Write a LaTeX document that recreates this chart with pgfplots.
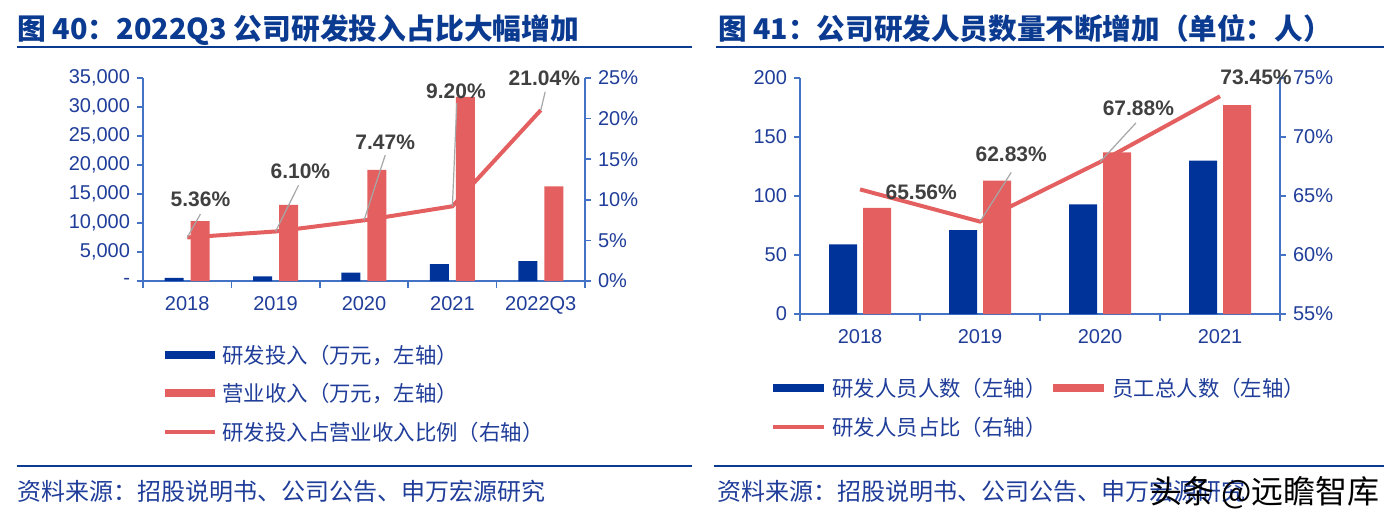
\documentclass[border=0pt]{standalone}
\usepackage{pgfplots}
\pgfplotsset{compat=1.18}
\usepackage{fontspec}
\setmainfont{Liberation Sans}
\newfontfamily\cjk{Noto Sans CJK SC}
\definecolor{barblue}{HTML}{003399}
\definecolor{barred}{HTML}{E45F5F}
\definecolor{axblue}{HTML}{4472C4}
\definecolor{txtblue}{HTML}{1F3D99}
\definecolor{ttlblue}{HTML}{0B3A91}
\definecolor{lblgray}{HTML}{404040}
\definecolor{leadgray}{HTML}{A6A6A6}
\pgfplotsset{
  base/.style={scale only axis, clip=false, anchor=south west,
    axis line style={-, axblue, line width=0.8pt},
    tick style={axblue, line width=0.8pt}, tick align=outside,
    major tick length=3pt, minor tick length=3.5pt,
    scaled y ticks=false,
    ticklabel style={font=\fontsize{10}{12}\selectfont, text=txtblue},
    xticklabel style={yshift=-1pt},
    /pgf/number format/assume math mode=true},
}
\tikzset{
  lbl/.style={font=\bfseries\fontsize{10.5}{12}\selectfont, text=lblgray},
  lead/.style={leadgray, line width=0.6pt},
}
\begin{document}
\begin{tikzpicture}
\useasboundingbox (0,0) rectangle (696pt,-262.5pt);
% ---------- left panel ----------
\begin{axis}[base, at={(71.5pt,-140.5pt)}, width=221pt, height=101.5pt,
  xmin=-0.5, xmax=4.5, ymin=0, ymax=35000,
  axis x line*=bottom, axis y line*=left,
  xtick={0,1,2,3,4}, xticklabels={2018,2019,2020,2021,2022Q3},
  major x tick style={draw=none},
  minor xtick={-0.5,0.5,1.5,2.5,3.5,4.5},
  ytick={0,5000,10000,15000,20000,25000,30000,35000},
  yticklabels={{-},{5,000},{10,000},{15,000},{20,000},{25,000},{30,000},{35,000}},
  ]
\addplot[ybar, bar width=9.5pt, bar shift=-6.5pt, fill=barblue, draw=none]
  coordinates {(0,553) (1,801) (2,1430) (3,2920) (4,3436)};
\addplot[ybar, bar width=9.5pt, bar shift=6.5pt, fill=barred, draw=none]
  coordinates {(0,10320) (1,13130) (2,19140) (3,31740) (4,16330)};
\end{axis}
\begin{axis}[base, at={(71.5pt,-140.5pt)}, width=221pt, height=101.5pt,
  xmin=-0.5, xmax=4.5, ymin=0, ymax=25,
  axis x line=none, axis y line*=right,
  ytick={0,5,10,15,20,25},
  yticklabels={0\%,5\%,10\%,15\%,20\%,25\%},
  ]
\addplot[barred, line width=2pt] coordinates {(0,5.36) (1,6.10) (2,7.47) (3,9.20) (4,21.04)};
\draw[lead] (axis cs:0,5.36) -- (axis cs:0.15,8.25);
\draw[lead] (axis cs:1,6.10) -- (axis cs:1.26,11.8);
\draw[lead] (axis cs:2,7.47) -- (axis cs:2.24,15.5);
\draw[lead] (axis cs:3,9.20) -- (axis cs:3.05,21.9);
\draw[lead] (axis cs:4,21.04) -- (axis cs:4.05,23.3);
\node[lbl] at (axis cs:0.15,10.1) {5.36\%};
\node[lbl] at (axis cs:1.28,13.5) {6.10\%};
\node[lbl] at (axis cs:2.24,17.1) {7.47\%};
\node[lbl] at (axis cs:3.04,23.4) {9.20\%};
\node[lbl] at (axis cs:4.04,25.0) {21.04\%};
\end{axis}
% ---------- right panel ----------
\begin{axis}[base, at={(400pt,-157pt)}, width=240pt, height=118pt,
  xmin=-0.5, xmax=3.5, ymin=0, ymax=200,
  axis x line*=bottom, axis y line*=left,
  xtick={0,1,2,3}, xticklabels={2018,2019,2020,2021},
  major x tick style={draw=none},
  minor xtick={-0.5,0.5,1.5,2.5,3.5},
  ytick={0,50,100,150,200},
  ]
\addplot[ybar, bar width=14pt, bar shift=-8.5pt, fill=barblue, draw=none]
  coordinates {(0,59) (1,71) (2,93) (3,130)};
\addplot[ybar, bar width=14pt, bar shift=8.5pt, fill=barred, draw=none]
  coordinates {(0,90) (1,113) (2,137) (3,177)};
\end{axis}
\begin{axis}[base, at={(400pt,-157pt)}, width=240pt, height=118pt,
  xmin=-0.5, xmax=3.5, ymin=55, ymax=75,
  axis x line=none, axis y line*=right,
  ytick={55,60,65,70,75},
  yticklabels={55\%,60\%,65\%,70\%,75\%},
  ]
\addplot[barred, line width=2pt] coordinates {(0,65.56) (1,62.83) (2,67.88) (3,73.45)};
\draw[lead] (axis cs:1,62.83) -- (axis cs:1.26,67.0);
\draw[lead] (axis cs:2,67.88) -- (axis cs:2.3,71.2);
\node[lbl] at (axis cs:0.51,65.34) {65.56\%};
\node[lbl] at (axis cs:1.26,68.56) {62.83\%};
\node[lbl] at (axis cs:2.32,72.46) {67.88\%};
\node[lbl] at (axis cs:3.30,75.1) {73.45\%};
\end{axis}
% ---------- titles, legends, footers ----------
\begin{scope}[x=0.5pt,y=-0.5pt]
\node[anchor=base west, inner sep=0, font=\cjk\bfseries\fontsize{14.4}{16}\selectfont, text=ttlblue] at (17,39) {图 40：2022Q3 公司研发投入占比大幅增加};
\node[anchor=base west, inner sep=0, font=\cjk\bfseries\fontsize{14.3}{16}\selectfont, text=ttlblue] at (718,39) {图 41：公司研发人员数量不断增加（单位：人）};
\draw[ttlblue, line width=1pt] (17,47) -- (692,47);
\draw[ttlblue, line width=1pt] (716,47) -- (1384,47);
% left legend
\fill[barblue] (165,351) rectangle (215,359);
\node[anchor=west, inner sep=0, font=\cjk\fontsize{10.7}{12}\selectfont, text=txtblue] at (222,355) {研发投入（万元，左轴）};
\fill[barred] (165,389) rectangle (215,397);
\node[anchor=west, inner sep=0, font=\cjk\fontsize{10.7}{12}\selectfont, text=txtblue] at (222,393) {营业收入（万元，左轴）};
\draw[barred, line width=2pt] (165,432) -- (215,432);
\node[anchor=west, inner sep=0, font=\cjk\fontsize{10.7}{12}\selectfont, text=txtblue] at (222,432) {研发投入占营业收入比例（右轴）};
% right legend
\fill[barblue] (773,384) rectangle (824,392);
\node[anchor=west, inner sep=0, font=\cjk\fontsize{10.7}{12}\selectfont, text=txtblue] at (832,388) {研发人员人数（左轴）};
\fill[barred] (1053,384) rectangle (1104,392);
\node[anchor=west, inner sep=0, font=\cjk\fontsize{10.7}{12}\selectfont, text=txtblue] at (1112,388) {员工总人数（左轴）};
\draw[barred, line width=2pt] (773,427) -- (824,427);
\node[anchor=west, inner sep=0, font=\cjk\fontsize{10.7}{12}\selectfont, text=txtblue] at (832,427) {研发人员占比（右轴）};
% footers
\draw[ttlblue, line width=1pt] (17,466) -- (692,466);
\draw[ttlblue, line width=1pt] (714,466) -- (1384,466);
\node[anchor=base west, inner sep=0, font=\cjk\fontsize{12}{14}\selectfont, text=txtblue] at (17,500) {资料来源：招股说明书、公司公告、申万宏源研究};
\node[anchor=base west, inner sep=0, font=\cjk\fontsize{12}{14}\selectfont, text=txtblue] at (717,500) {资料来源：招股说明书、公司公告、申万宏源研究};
\node[anchor=base east, inner sep=0, font=\cjk\fontsize{16}{18}\selectfont, text=black] at (1380,503) {头条 @远瞻智库};
\end{scope}
\end{tikzpicture}
\end{document}
